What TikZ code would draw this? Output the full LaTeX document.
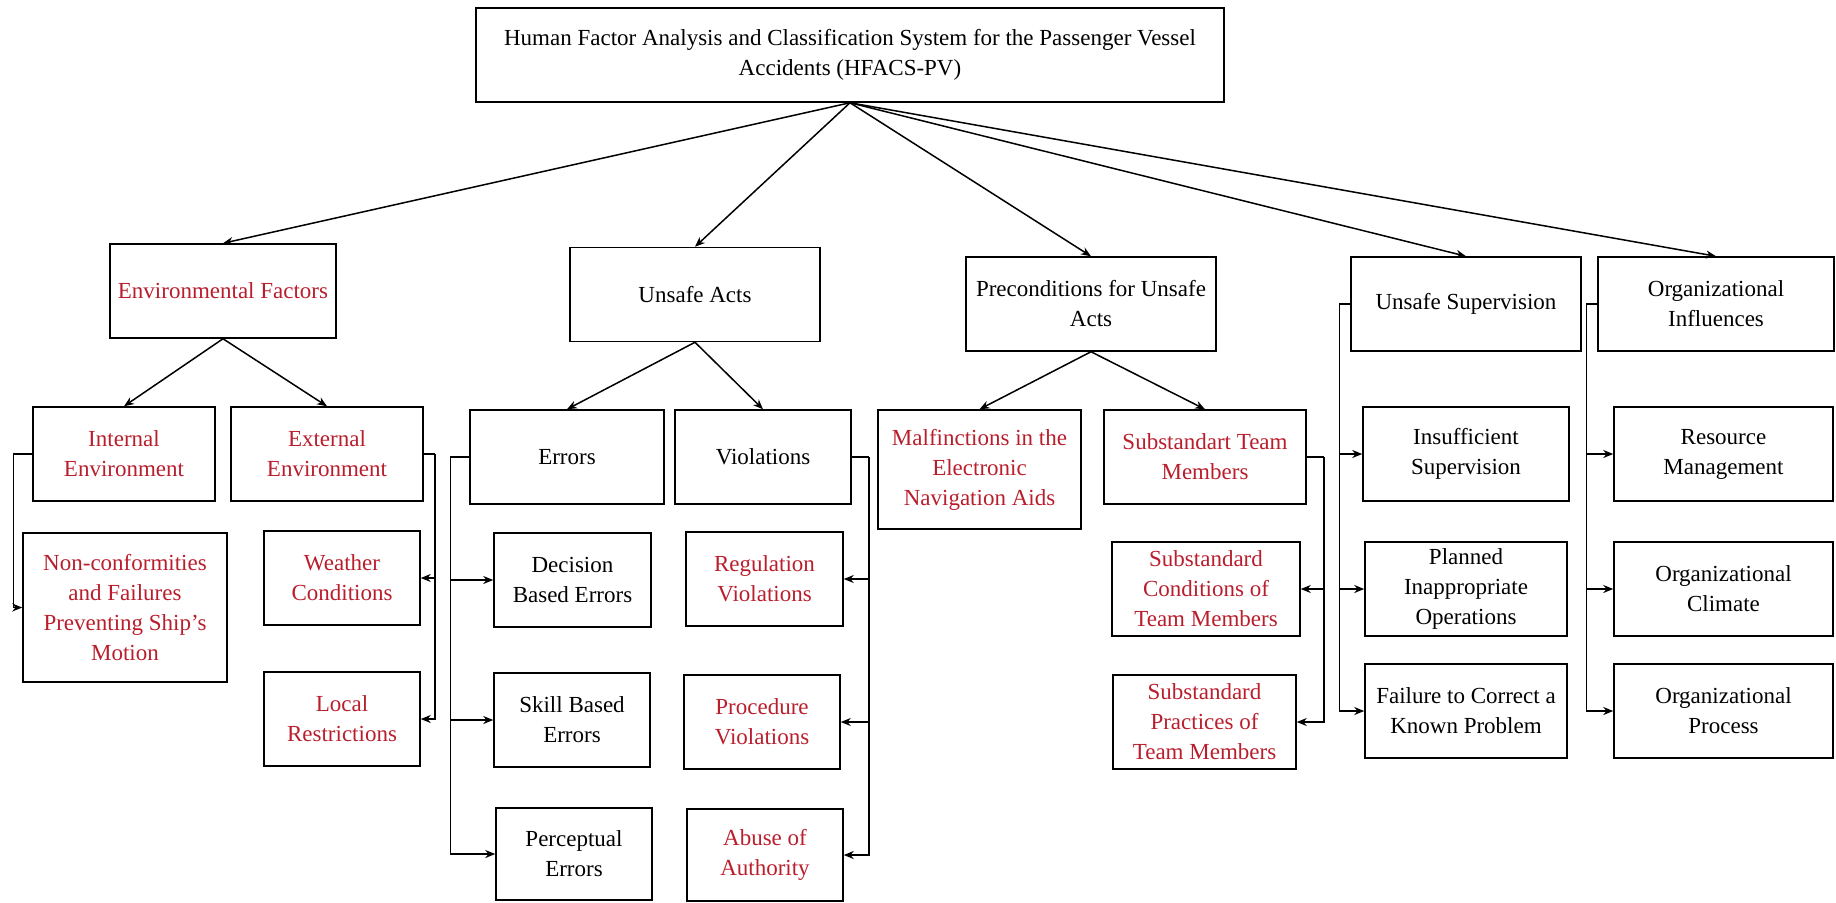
\documentclass[tikz,border=0pt]{standalone}
\usepackage{fontspec}
\setmainfont{Liberation Serif}
\usepackage{tikz}
\usetikzlibrary{arrows.meta, calc}
\definecolor{factorRed}{RGB}{185,30,45}
\newcommand{\boxFont}{\fontsize{11.5}{15}\selectfont}
\tikzstyle{block}=[draw, line width=0.75pt, align=center, inner sep=0pt, font=\boxFont, minimum height=47pt]
\tikzstyle{redBlock}=[block, text=factorRed]
\tikzstyle{arrow}=[-{Stealth[length=5pt, width=4pt]}, line width=0.75pt]
\tikzstyle{bus}=[line width=0.75pt]

\begin{document}
\begin{tikzpicture}[x=0.5pt, y=-0.5pt]
  \useasboundingbox (0,0) rectangle (1836,902);
  % root
  \node[block, minimum width=374pt] (hfacs) at (850,55)
    {Human Factor Analysis and Classification System for the Passenger Vessel\\Accidents (HFACS-PV)};
  % first level
  \node[redBlock, minimum width=113pt] (envFactors) at (223,291) {Environmental Factors};
  \node[block, minimum width=125pt] (unsafeActs) at (695,294.5) {Unsafe Acts};
  \node[block, minimum width=125pt] (precond) at (1091,304) {Preconditions for Unsafe\\Acts};
  \node[block, minimum width=115pt] (unsafeSup) at (1466,304) {Unsafe Supervision};
  \node[block, minimum width=118pt] (orgInf) at (1716,304) {Organizational\\Influences};
  % second level
  \node[redBlock, minimum width=91pt] (intEnv) at (124,454) {Internal\\Environment};
  \node[redBlock, minimum width=96pt] (extEnv) at (327,454) {External\\Environment};
  \node[block, minimum width=97pt] (errors) at (567,457) {Errors};
  \node[block, minimum width=88pt] (violations) at (763,457) {Violations};
  \node[redBlock, minimum width=101.5pt, minimum height=59.5pt] (malf) at (979.5,469.5)
    {Malfinctions in the\\Electronic\\Navigation Aids};
  \node[redBlock, minimum width=101pt] (teamMembers) at (1205,457) {Substandart Team\\Members};
  \node[block, minimum width=103pt] (insufficient) at (1466,454) {Insufficient\\Supervision};
  \node[block, minimum width=109.5pt] (resource) at (1723.5,454) {Resource\\Management};
  % third level
  \node[redBlock, minimum width=102pt, minimum height=74.5pt] (nonConf) at (125,607.5)
    {Non-conformities\\and Failures\\Preventing Ship's\\Motion};
  \node[redBlock, minimum width=78pt] (weather) at (342,578) {Weather\\Conditions};
  \node[block, minimum width=78.5pt] (decision) at (572.5,580) {Decision\\Based Errors};
  \node[redBlock, minimum width=78.5pt] (regulation) at (764.5,579) {Regulation\\Violations};
  \node[redBlock, minimum width=94pt] (subCond) at (1206,589) {Substandard\\Conditions of\\Team Members};
  \node[block, minimum width=101pt] (planned) at (1466,589) {Planned\\Inappropriate\\Operations};
  \node[block, minimum width=109.5pt] (orgClimate) at (1723.5,589) {Organizational\\Climate};
  % fourth level
  \node[redBlock, minimum width=78pt] (local) at (342,719) {Local\\Restrictions};
  \node[block, minimum width=78pt] (skill) at (572,720) {Skill Based\\Errors};
  \node[redBlock, minimum width=78pt] (procedure) at (762,722) {Procedure\\Violations};
  \node[redBlock, minimum width=91.5pt] (subPract) at (1204.5,722) {Substandard\\Practices of\\Team Members};
  \node[block, minimum width=101pt] (failure) at (1466,711) {Failure to Correct a\\Known Problem};
  \node[block, minimum width=109.5pt] (orgProcess) at (1723.5,711) {Organizational\\Process};
  % fifth level
  \node[block, minimum width=78pt, minimum height=46pt] (perceptual) at (574,854) {Perceptual\\Errors};
  \node[redBlock, minimum width=78pt, minimum height=46pt] (abuse) at (765,855) {Abuse of\\Authority};

  % tree arrows
  \foreach \n in {envFactors, unsafeActs, precond, unsafeSup, orgInf}
    \draw[arrow] (hfacs.south) -- (\n.north);
  \draw[arrow] (envFactors.south) -- (intEnv.north);
  \draw[arrow] (envFactors.south) -- (extEnv.north);
  \draw[arrow] (unsafeActs.south) -- (errors.north);
  \draw[arrow] (unsafeActs.south) -- (violations.north);
  \draw[arrow] (precond.south) -- (malf.north);
  \draw[arrow] (precond.south) -- (teamMembers.north);

  % side buses
  \draw[arrow] (intEnv.west) -- ++(-19,0) |- (nonConf.west);
  \draw[bus] (extEnv.east) -- ++(11,0) coordinate (extBus);
  \foreach \n in {weather, local}
    \draw[arrow] (extBus) |- (\n.east);
  \draw[bus] (errors.west) -- ++(-19,0) coordinate (errBus);
  \foreach \n in {decision, skill, perceptual}
    \draw[arrow] (errBus) |- (\n.west);
  \draw[bus] (violations.east) -- ++(17,0) coordinate (violBus);
  \foreach \n in {regulation, procedure, abuse}
    \draw[arrow] (violBus) |- (\n.east);
  \draw[bus] (teamMembers.east) -- ++(17,0) coordinate (teamBus);
  \foreach \n in {subCond, subPract}
    \draw[arrow] (teamBus) |- (\n.east);
  \draw[bus] (unsafeSup.west) -- ++(-11,0) coordinate (supBus);
  \foreach \n in {insufficient, planned, failure}
    \draw[arrow] (supBus) |- (\n.west);
  \draw[bus] (orgInf.west) -- ++(-11,0) coordinate (orgBus);
  \foreach \n in {resource, orgClimate, orgProcess}
    \draw[arrow] (orgBus) |- (\n.west);
\end{tikzpicture}
\end{document}
